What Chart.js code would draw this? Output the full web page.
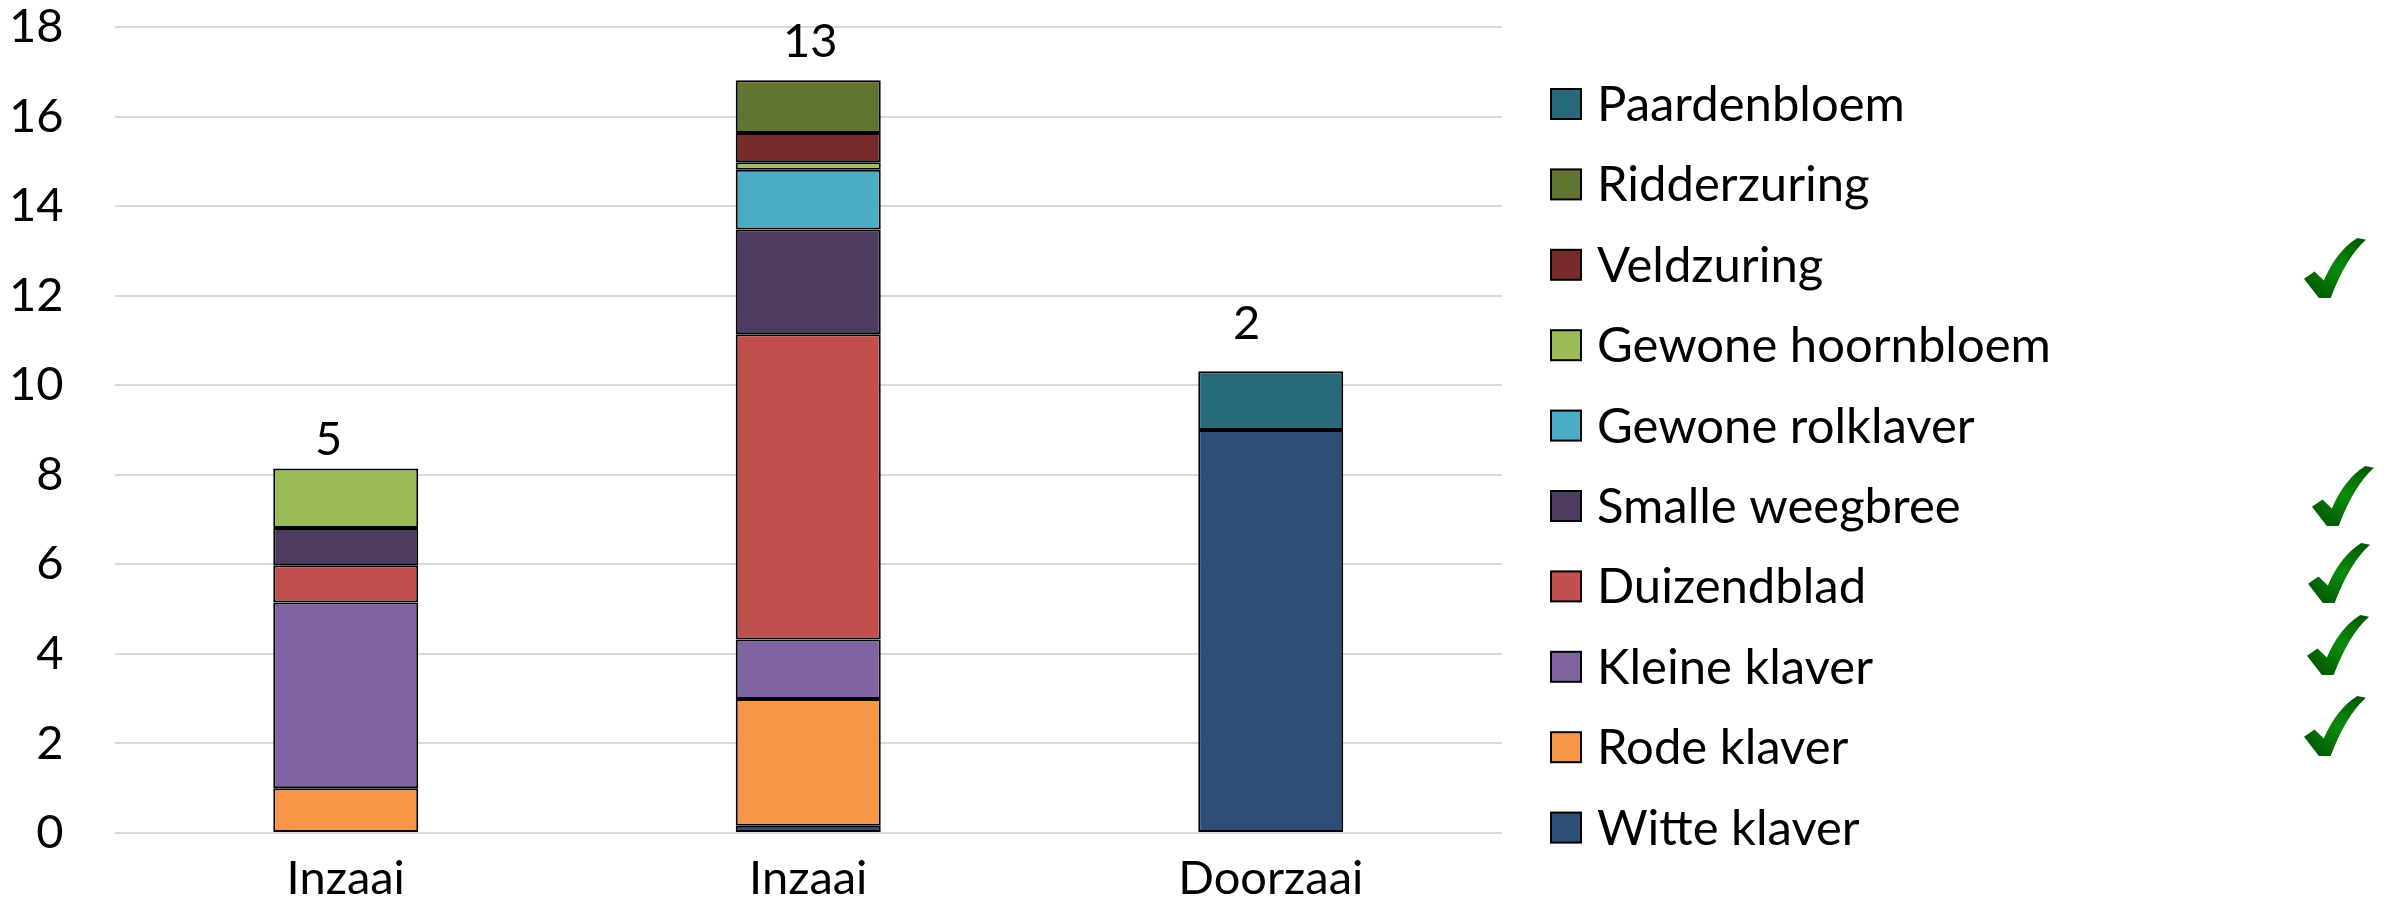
<!DOCTYPE html>
<html>
<head>
<meta charset="utf-8">
<title>Soorten per perceel</title>
<script src="https://cdn.jsdelivr.net/npm/chart.js@4/dist/chart.umd.min.js"></script>
<style>
  html, body { margin: 0; padding: 0; background: #fff; }
  #wrap { width: 2387px; height: 922px; position: relative; }
</style>
</head>
<body>
<div id="wrap"><canvas id="soortenChart"></canvas></div>
<script>
// categories and counts shown above the bars
const categories = ["Inzaai", "Inzaai", "Doorzaai"];
const speciesCounts = ["5", "13", "2"];

// series values per category (bottom of the stack first)
const witteKlaver      = [null, 0.16, 9.0];
const rodeKlaver       = [1.0, 2.83, null];
const kleineKlaver     = [4.15, 1.33, null];
const duizendblad      = [0.83, 6.82, null];
const smalleWeegbree   = [0.83, 2.34, null];
const gewoneRolklaver  = [null, 1.33, null];
const gewoneHoornbloem = [1.33, 0.17, null];
const veldzuring       = [null, 0.65, null];
const ridderzuring     = [null, 1.18, null];
const paardenbloem     = [null, null, 1.31];

// y axis ticks
const yTicks = [0, 2, 4, 6, 8, 10, 12, 14, 16, 18];

const series = [
  { label: "Witte klaver", data: witteKlaver, color: "#2D4E76" },
  { label: "Rode klaver", data: rodeKlaver, color: "#F79646" },
  { label: "Kleine klaver", data: kleineKlaver, color: "#8064A2" },
  { label: "Duizendblad", data: duizendblad, color: "#C0504D" },
  { label: "Smalle weegbree", data: smalleWeegbree, color: "#4D3B60" },
  { label: "Gewone rolklaver", data: gewoneRolklaver, color: "#4BACC6" },
  { label: "Gewone hoornbloem", data: gewoneHoornbloem, color: "#9BBB59" },
  { label: "Veldzuring", data: veldzuring, color: "#772B2A" },
  { label: "Ridderzuring", data: ridderzuring, color: "#617532" },
  { label: "Paardenbloem", data: paardenbloem, color: "#276A7B" }
];

const FONT = "Lato";
const FSIZE = 47;
const LEGEND_FSIZE = 49;

// little nudges for the count labels, like in the original sheet
const countNudge = [{ dx: -17, gap: 14 }, { dx: 2, gap: 23 }, { dx: -24, gap: 32 }];

const countLabels = {
  id: "countLabels",
  afterDatasetsDraw(chart) {
    const ctx = chart.ctx;
    const x = chart.scales.x, y = chart.scales.y;
    ctx.save();
    ctx.font = FSIZE + "px " + FONT;
    ctx.fillStyle = "#000";
    ctx.textAlign = "center";
    ctx.textBaseline = "alphabetic";
    categories.forEach((c, i) => {
      let total = 0;
      series.forEach(s => { total += s.data[i] || 0; });
      const px = x.getPixelForValue(i) + countNudge[i].dx;
      const py = y.getPixelForValue(total) - countNudge[i].gap;
      ctx.fillText(speciesCounts[i], px, py);
    });
    ctx.restore();
  }
};

function drawCheck(ctx, x, y, w, h) {
  ctx.save();
  ctx.translate(x, y);
  ctx.scale(w, h);
  const g = ctx.createRadialGradient(0.55, 0.5, 0.02, 0.55, 0.5, 0.7);
  g.addColorStop(0, "#0B8C0B");
  g.addColorStop(1, "#004F00");
  ctx.fillStyle = g;
  ctx.beginPath();
  ctx.moveTo(0, 0.68);
  ctx.lineTo(0.17, 0.56);
  ctx.lineTo(0.32, 0.71);
  ctx.quadraticCurveTo(0.52, 0.22, 0.86, 0.0);
  ctx.lineTo(1.0, 0.03);
  ctx.quadraticCurveTo(0.68, 0.32, 0.43, 1.0);
  ctx.lineTo(0.24, 1.0);
  ctx.closePath();
  ctx.fill();
  ctx.restore();
}

// check mark boxes, placed by hand next to the legend
const checkBoxes = [
  { x: 2304, y: 238, w: 62, h: 60 },
  { x: 2312, y: 466, w: 62, h: 60 },
  { x: 2308, y: 543, w: 62, h: 60 },
  { x: 2307, y: 615, w: 62, h: 60 },
  { x: 2304, y: 696, w: 62, h: 60 }
];

const sideLegend = {
  id: "sideLegend",
  afterDraw(chart) {
    const ctx = chart.ctx;
    const rows = series.slice().reverse();
    const top = 104, step = 80.4, boxX = 1551, box = 30, textX = 1597;
    ctx.save();
    ctx.font = LEGEND_FSIZE + "px " + FONT;
    ctx.textAlign = "left";
    ctx.textBaseline = "alphabetic";
    rows.forEach((s, k) => {
      const cy = top + k * step;
      ctx.fillStyle = s.color;
      ctx.fillRect(boxX, cy - box / 2, box, box);
      ctx.lineWidth = 2;
      ctx.strokeStyle = "#000";
      ctx.strokeRect(boxX, cy - box / 2, box, box);
      ctx.fillStyle = "#000";
      ctx.fillText(s.label, textX, cy + 17);
    });
    checkBoxes.forEach(b => drawCheck(ctx, b.x, b.y, b.w, b.h));
    ctx.restore();
  }
};

const ctx = document.getElementById("soortenChart").getContext("2d");
const soortenChart = new Chart(ctx, {
  type: "bar",
  data: {
    labels: categories,
    datasets: series.map(s => ({
      label: s.label,
      data: s.data,
      backgroundColor: s.color,
      borderColor: "#000",
      borderWidth: 2,
      borderSkipped: false,
      barPercentage: 1,
      categoryPercentage: 0.3135
    }))
  },
  options: {
    responsive: true,
    maintainAspectRatio: false,
    animation: false,
    layout: { padding: { top: 27, right: 885, left: 0, bottom: 0 } },
    plugins: {
      legend: { display: false },
      tooltip: { enabled: false }
    },
    scales: {
      x: {
        stacked: true,
        grid: { display: false },
        border: { display: false },
        ticks: {
          color: "#000",
          font: { family: FONT, size: FSIZE },
          padding: 10,
          maxRotation: 0
        },
        afterFit(scale) { scale.height = 89; }
      },
      y: {
        stacked: true,
        min: 0,
        max: 18,
        afterBuildTicks(scale) { scale.ticks = yTicks.map(v => ({ value: v })); },
        grid: { color: "#D9D9D9", lineWidth: 2, drawTicks: false },
        border: { display: false },
        ticks: {
          color: "#000",
          font: { family: FONT, size: FSIZE },
          padding: 51
        },
        afterFit(scale) {
          scale.width = 114.5;
          scale.paddingTop = 0;
          scale.paddingBottom = 0;
        }
      }
    }
  },
  plugins: [countLabels, sideLegend]
});
</script>
</body>
</html>
